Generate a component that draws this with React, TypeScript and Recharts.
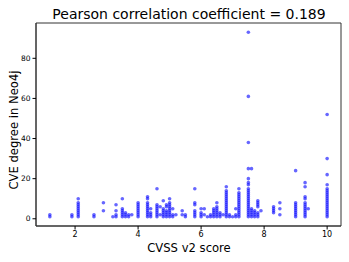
import React from 'react';
import { ScatterChart, Scatter, XAxis, YAxis, ReferenceArea } from 'recharts';

const titleText = 'Pearson correlation coefficient = 0.189';
const xLabel = 'CVSS v2 score';
const yLabel = 'CVE degree in Neo4j';
const xTicks = [2, 4, 6, 8, 10];
const yTicks = [0, 20, 40, 60, 80];
const xDomain: [number, number] = [0.76, 10.44];
const yDomain: [number, number] = [-3.6, 97.6];

const scores = [
  1.2, 1.9, 2.1, 2.6, 2.9, 3.2, 3.3, 3.5, 3.6, 3.7, 3.8, 4.0, 4.3, 4.4, 4.6, 4.7, 4.8, 4.9, 5.0, 5.1,
  5.2, 5.4, 5.5, 5.8, 6.0, 6.1, 6.2, 6.3, 6.4, 6.5, 6.6, 6.7, 6.8, 6.9, 7.0, 7.1, 7.2, 7.5, 7.6, 7.7,
  7.8, 7.9, 8.3, 8.5, 9.0, 9.3, 9.4, 10.0,
];

const degrees: number[][] = [
  [1, 2],
  [1, 2],
  [1, 2, 3, 4, 5, 6, 7, 8, 10],
  [1, 2],
  [4, 8],
  [1],
  [1, 2, 4, 7],
  [1, 2, 3, 4, 5, 10],
  [1, 2, 3],
  [1, 2],
  [2],
  [1, 2, 3, 4, 5, 6, 7, 8],
  [1, 2, 3, 4, 5, 6, 7, 8, 10, 11],
  [1, 2, 3, 5],
  [1, 2, 3, 4, 5, 6, 7, 15],
  [2, 6],
  [1, 2, 3, 4, 5, 9],
  [1, 2, 3, 4, 6, 7],
  [1, 2, 3, 4, 5, 6, 7, 8, 10],
  [1, 2, 5],
  [2],
  [2, 4],
  [1, 2],
  [1, 2, 3, 4, 7, 8, 15],
  [1, 2, 3, 5],
  [2, 5],
  [1],
  [1, 2],
  [1, 2, 3, 4, 5],
  [1, 2, 3, 4, 5, 6, 8],
  [1, 2, 3],
  [2],
  [1, 2, 3, 4, 5, 6, 7, 8, 9, 10, 11, 12, 13, 14, 16],
  [1, 2],
  [1],
  [1, 2, 5],
  [1, 2, 3, 4, 5, 6, 7, 8, 9, 10, 11, 12, 13, 15],
  [1, 2, 3, 4, 5, 6, 7, 8, 9, 10, 11, 12, 13, 14, 15, 17, 18, 20, 25, 38, 61, 93],
  [1, 2, 3, 4, 5, 25],
  [1, 2, 3, 4],
  [1, 2, 3, 6, 7, 8, 9],
  [4],
  [3, 4, 5, 6],
  [2, 5, 8],
  [1, 2, 3, 4, 5, 6, 7, 8, 24],
  [1, 2, 3, 4, 5, 6, 7, 8, 10, 11, 16, 18],
  [5],
  [1, 2, 3, 4, 5, 6, 7, 8, 9, 10, 11, 12, 13, 14, 15, 17, 22, 30, 52],
];

const points = scores.flatMap((s, i) => degrees[i].map((d) => ({ x: s, y: d })));

const FONT = 'DejaVu Sans, sans-serif';
const frame = '#333333';

const Dot = (props: any) => (
  <circle cx={props.cx} cy={props.cy} r={1.8} fill="#0000ff" fillOpacity={0.6} />
);

export default function App() {
  return (
    <div style={{ position: 'fixed', left: 0, top: 0, width: 349, height: 262, background: '#fff' }}>
      <ScatterChart width={349} height={262} margin={{ top: 23, right: 8, bottom: 16, left: 8 }}>
        <XAxis
          type="number"
          dataKey="x"
          domain={xDomain}
          ticks={xTicks}
          height={20}
          tickSize={3.5}
          tickLine={{ stroke: '#000' }}
          axisLine={{ stroke: frame }}
          tick={{ fill: '#000', fontSize: 8, fontFamily: FONT }}
          allowDataOverflow
        />
        <YAxis
          type="number"
          dataKey="y"
          domain={yDomain}
          ticks={yTicks}
          width={28}
          tickSize={3.5}
          tickLine={{ stroke: '#000' }}
          axisLine={{ stroke: frame }}
          tick={{ fill: '#000', fontSize: 7.5, fontFamily: FONT }}
          allowDataOverflow
        />
        <ReferenceArea
          x1={xDomain[0]}
          x2={xDomain[1]}
          y1={yDomain[0]}
          y2={yDomain[1]}
          fill="none"
          fillOpacity={0}
          stroke={frame}
          strokeWidth={1}
          ifOverflow="visible"
        />
        <Scatter data={points} shape={Dot} isAnimationActive={false} />
      </ScatterChart>
      <svg
        width={349}
        height={262}
        style={{ position: 'absolute', left: 0, top: 0, pointerEvents: 'none' }}
      >
        <text x={189} y={18.5} textAnchor="middle" fontFamily={FONT} fontSize={14} fill="#000">
          {titleText}
        </text>
        <text x={189} y={251.5} textAnchor="middle" fontFamily={FONT} fontSize={11.6} fill="#000">
          {xLabel}
        </text>
        <text
          x={17.5}
          y={130}
          textAnchor="middle"
          fontFamily={FONT}
          fontSize={11.6}
          fill="#000"
          transform="rotate(-90, 17.5, 130)"
        >
          {yLabel}
        </text>
      </svg>
    </div>
  );
}
